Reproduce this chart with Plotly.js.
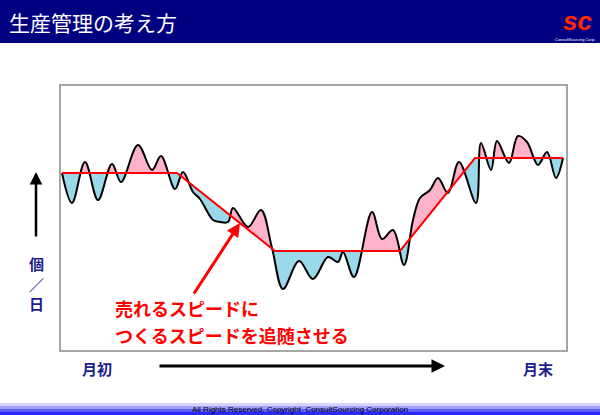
<!DOCTYPE html>
<html>
<head>
<meta charset="utf-8">
<script src="https://cdn.plot.ly/plotly-3.0.1.min.js"></script>
<style>html,body{margin:0;padding:0;background:#fff;}#chart{width:600px;height:415px;}</style>
</head>
<body>
<div id="chart"></div>
<script>
// Demand curve (sales per day) – key points
const demandX = [1,11,24,37,51,60,77,91,100,114,122,132,139,152,159,167,172,187,200,211,222,238,252,267,277,282,293,311,321,332,343,352,359,369,377,387,398,415,420,430,436,448,457,466,477,486,495,502];
const demandY = [177,147,188,150,186,168,205,180,194,161,178,158,151,130,128,128,142,123,140,102,61,89,71,93,88,98,73,138,111,120,85,130,152,160,172,157,188,147,207,180,209,187,214,208,185,198,172,192];
// Production plan (red line)
const prodX = [1,116,214,339,414,502];
const prodY = [177,177,99,99,192,192];

const titleText = '生産管理の考え方';
const yLabel = ['個','／','日'];
const xStart = '月初';
const xEnd = '月末';
const note1 = '売れるスピードに';
const note2 = 'つくるスピードを追随させる';
const footer = 'All Rights Reserved. Copyright  ConsultSourcing Corporation';

// layout geometry (plot area 505 x 264 px)
const W = 600, H = 415, L = 61, R = 34, T = 86, B = 65;
const PW = W - L - R, PH = H - T - B;
const X = px => (px - L) / PW;
const Y = py => (H - B - py) / PH;

// replicate Plotly's spline path so fills follow the drawn curve
function tangent(p0, p1, p2, s) {
  const d1x = p0[0]-p1[0], d1y = p0[1]-p1[1], d2x = p2[0]-p1[0], d2y = p2[1]-p1[1];
  const d1a = Math.pow(d1x*d1x+d1y*d1y, 0.25), d2a = Math.pow(d2x*d2x+d2y*d2y, 0.25);
  const nx = (d2a*d2a*d1x - d1a*d1a*d2x)*s, ny = (d2a*d2a*d1y - d1a*d1a*d2y)*s;
  const den1 = 3*d2a*(d1a+d2a), den2 = 3*d1a*(d1a+d2a);
  return [[p1[0]+(den1 && nx/den1), p1[1]+(den1 && ny/den1)],
          [p1[0]-(den2 && nx/den2), p1[1]-(den2 && ny/den2)]];
}
function splinePath(xs, ys, s, n) {
  const p = xs.map((x,i)=>[x, ys[i]]);
  const t = [];
  for (let i=1;i<p.length-1;i++) t.push(tangent(p[i-1],p[i],p[i+1],s));
  const out = [p[0]];
  const quad = (a,c,b)=>{for(let k=1;k<=n;k++){const u=k/n,v=1-u;out.push([v*v*a[0]+2*v*u*c[0]+u*u*b[0], v*v*a[1]+2*v*u*c[1]+u*u*b[1]]);}};
  const cub = (a,c1,c2,b)=>{for(let k=1;k<=n;k++){const u=k/n,v=1-u;out.push([v*v*v*a[0]+3*v*v*u*c1[0]+3*v*u*u*c2[0]+u*u*u*b[0], v*v*v*a[1]+3*v*v*u*c1[1]+3*v*u*u*c2[1]+u*u*u*b[1]]);}};
  quad(p[0], t[0][0], p[1]);
  for (let i=2;i<p.length-1;i++) cub(p[i-1], t[i-2][1], t[i-1][0], p[i]);
  quad(p[p.length-2], t[p.length-3][1], p[p.length-1]);
  return out;
}
function prodAt(x) {
  if (x <= prodX[0]) return prodY[0];
  for (let i=1;i<prodX.length;i++) {
    if (x <= prodX[i]) { const f=(x-prodX[i-1])/(prodX[i]-prodX[i-1]); return prodY[i-1]+f*(prodY[i]-prodY[i-1]); }
  }
  return prodY[prodY.length-1];
}
const sp = splinePath(demandX, demandY, 1, 24);
const sx = sp.map(p=>p[0]);
const overY = sp.map(p=>Math.max(p[1], prodAt(p[0])));
const underY = sp.map(p=>Math.min(p[1], prodAt(p[0])));

const base = {x: prodX, y: prodY, mode:'lines', line:{width:0, color:'rgba(0,0,0,0)'}, hoverinfo:'skip', showlegend:false};
const traces = [
  base,
  {x: sx, y: overY, mode:'lines', fill:'tonexty', fillcolor:'#FFB3CB', line:{width:0, color:'rgba(0,0,0,0)'}, hoverinfo:'skip', showlegend:false},
  base,
  {x: sx, y: underY, mode:'lines', fill:'tonexty', fillcolor:'#99D9EA', line:{width:0, color:'rgba(0,0,0,0)'}, hoverinfo:'skip', showlegend:false},
  {x: demandX, y: demandY, mode:'lines', line:{color:'#000', width:2, shape:'spline', smoothing:1, simplify:false}, showlegend:false},
  {x: prodX, y: prodY, mode:'lines', line:{color:'#FF0000', width:2}, showlegend:false}
];

const navy = '#1C1C8E';
const jp = 'Noto Sans CJK JP';
const ann = [];
function txt(text, px, py, size, color, xanchor, bold, family) {
  ann.push({xref:'paper', yref:'paper', x:X(px), y:Y(py), text: bold?('<b>'+text+'</b>'):text, showarrow:false,
    xanchor:xanchor||'center', yanchor:'middle', font:{family:family||jp, size:size, color:color}});
}
function arrow(tx, ty, fx, fy, color, width, head, size) {
  ann.push({xref:'paper', yref:'paper', x:X(tx), y:Y(ty), ax:fx-tx, ay:fy-ty, text:'', showarrow:true,
    arrowhead:head, arrowsize:size, arrowwidth:width, arrowcolor:color, standoff:0, startstandoff:0});
}
txt(titleText, 7, 22, 21, '#FFFFFF', 'left', false);
txt('<b><i>sc</i></b>', 577, 21, 26, '#FF2A00', 'center', false, 'Liberation Sans');
txt('ConsultSourcing Corp.', 575, 39, 4, '#FFFFFF', 'center', false, 'Liberation Sans');
yLabel.forEach((c,i)=>txt(c, 36, [263,284,303][i], 15, navy, 'center', true));
txt(xStart, 97, 368, 15, navy, 'center', true);
txt(xEnd, 538, 368, 15, navy, 'center', true);
txt(note1, 113, 308, 18, '#FF0000', 'left', true);
txt(note2, 113, 335, 18, '#FF0000', 'left', true);
txt(footer, 300, 409, 8, '#000000', 'center', false, 'Liberation Sans');
arrow(36, 172, 36, 238, '#000', 2.5, 2, 1);
arrow(445, 366, 158, 366, '#000', 3, 2, 0.9);
arrow(240, 223, 193, 295, '#FF0000', 3, 2, 0.9);

const shapes = [
  {type:'rect', xref:'paper', yref:'paper', x0:X(0), x1:X(600), y0:Y(43), y1:Y(0), fillcolor:'#000080', line:{width:0}, layer:'below'},
  {type:'rect', xref:'paper', yref:'paper', x0:X(0), x1:X(600), y0:Y(406), y1:Y(403), fillcolor:'#D4D4FF', line:{width:0}, layer:'below'},
  {type:'rect', xref:'paper', yref:'paper', x0:X(0), x1:X(600), y0:Y(409), y1:Y(406), fillcolor:'#A0A0FF', line:{width:0}, layer:'below'},
  {type:'rect', xref:'paper', yref:'paper', x0:X(0), x1:X(600), y0:Y(412), y1:Y(409), fillcolor:'#6060FF', line:{width:0}, layer:'below'},
  {type:'rect', xref:'paper', yref:'paper', x0:X(0), x1:X(600), y0:Y(415), y1:Y(412), fillcolor:'#2A2AFF', line:{width:0}, layer:'below'}
];

const layout = {
  width: W, height: H, margin:{l:L, r:R, t:T, b:B, pad:0},
  paper_bgcolor:'#FFFFFF', plot_bgcolor:'#FFFFFF',
  showlegend:false,
  xaxis:{range:[0, PW], showgrid:false, zeroline:false, showticklabels:false, ticks:'', showline:true, mirror:true, linecolor:'#A6A6A6', linewidth:2, fixedrange:true},
  yaxis:{range:[0, PH], showgrid:false, zeroline:false, showticklabels:false, ticks:'', showline:true, mirror:true, linecolor:'#A6A6A6', linewidth:2, fixedrange:true},
  annotations: ann, shapes: shapes,
  font:{family:jp}
};
Plotly.newPlot('chart', traces, layout, {displayModeBar:false, staticPlot:true});
</script>
</body>
</html>
